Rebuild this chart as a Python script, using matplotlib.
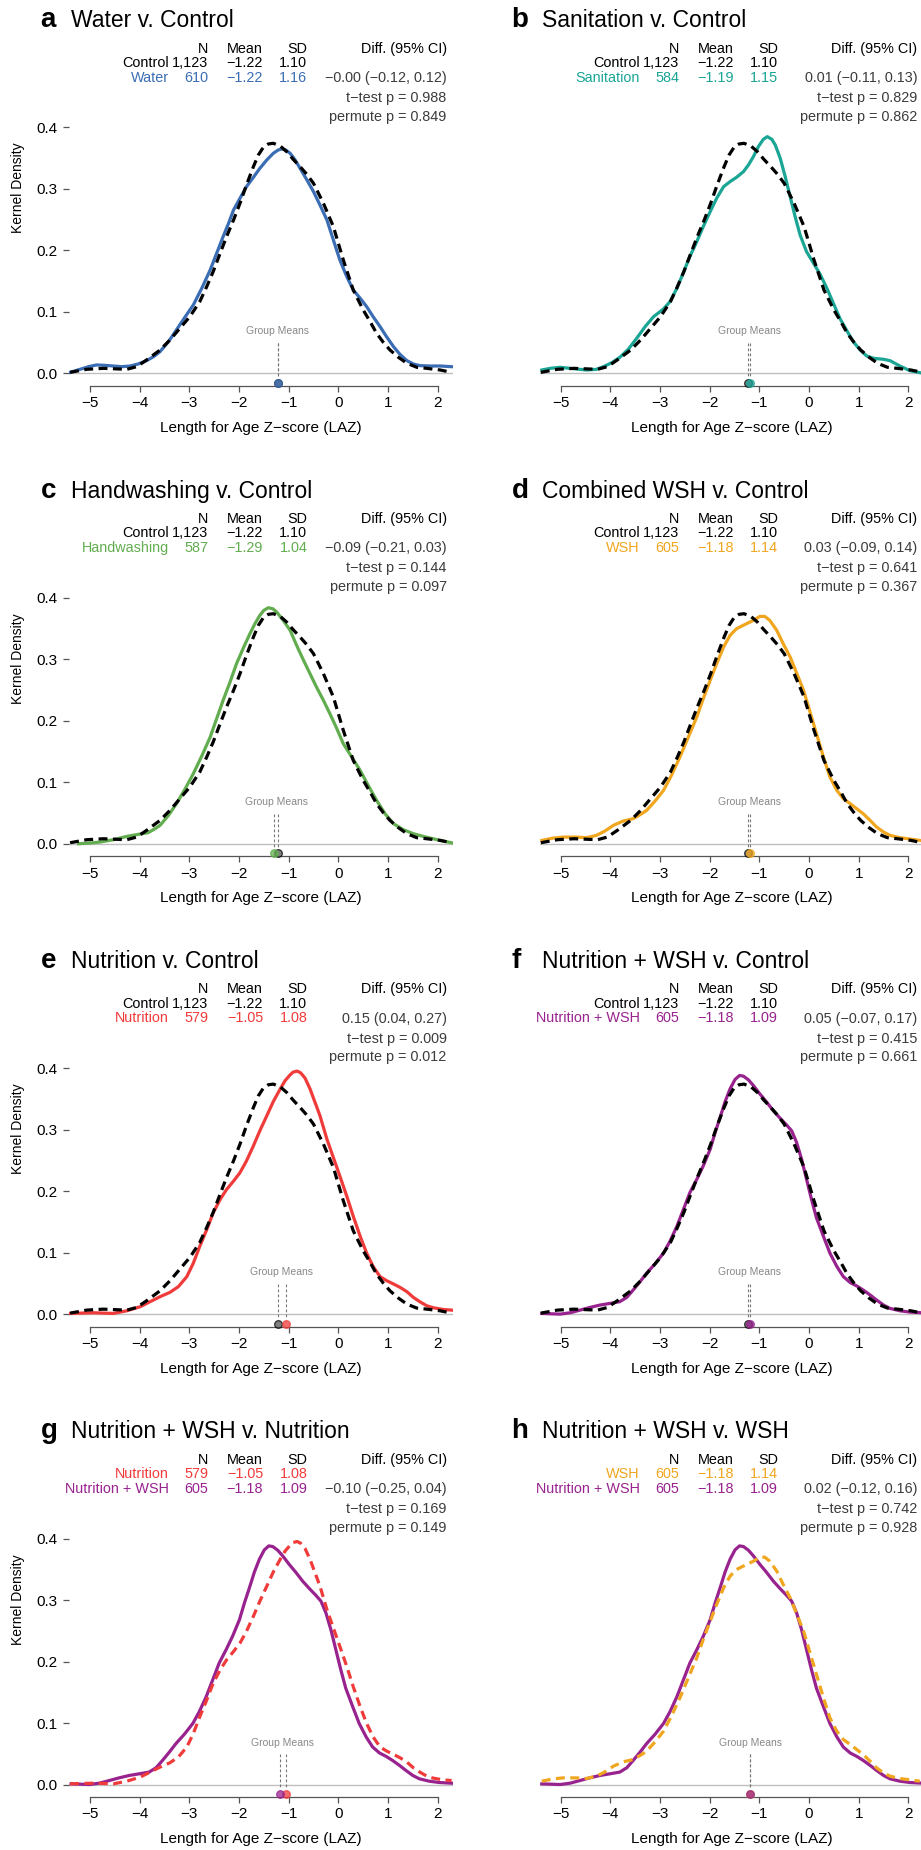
"""Kernel density of LAZ by arm, eight pairwise panels (a-h)."""
import matplotlib
matplotlib.use('Agg')
import matplotlib.pyplot as plt

plt.rcParams.update({'font.family': ['Liberation Sans', 'DejaVu Sans'],
                     'axes.unicode_minus': True})

# ---- group summary table ----
groups = ['Control', 'Water', 'Sanitation', 'Handwashing', 'WSH',
          'Nutrition', 'Nutrition + WSH']
group_n = [1123, 610, 584, 587, 605, 579, 605]
group_mean = [-1.22, -1.22, -1.19, -1.29, -1.18, -1.05, -1.18]
group_sd = [1.10, 1.16, 1.15, 1.04, 1.14, 1.08, 1.09]
group_color = ['#000000', '#3a6db3', '#1aa595', '#62ad4f', '#f0a61e',
               '#f03b3b', '#98228e']

# ---- density curves (x = LAZ, y = density) ----
ctrl_x = [-5.40, -5.07, -4.73, -4.26, -4.06, -3.86, -3.59, -3.39, -3.19, -2.99,
          -2.79, -2.65, -2.52, -2.38, -2.25, -2.11, -1.98, -1.85, -1.71, -1.61,
          -1.51, -1.41, -1.31, -1.17, -1.04, -0.91, -0.77, -0.64, -0.50, -0.40,
          -0.30, -0.20, -0.10, 0.00, 0.10, 0.20, 0.30, 0.40, 0.50, 0.64,
          0.77, 0.91, 1.04, 1.21, 1.38, 1.58, 1.78, 2.05, 2.28]
ctrl_y = [0.0016, 0.0065, 0.0081, 0.0065, 0.0108, 0.0217, 0.0379, 0.0542, 0.0732,
          0.0921, 0.1165, 0.1409, 0.1653, 0.1951, 0.2222, 0.2493, 0.2764, 0.3062,
          0.3360, 0.3550, 0.3675, 0.3729, 0.3740, 0.3696, 0.3604, 0.3480, 0.3360,
          0.3241, 0.3089, 0.2927, 0.2764, 0.2575, 0.2385, 0.2114, 0.1843, 0.1599,
          0.1355, 0.1192, 0.1030, 0.0840, 0.0650, 0.0499, 0.0379, 0.0260, 0.0163,
          0.0098, 0.0081, 0.0054, 0.0016]
water_x = [-5.40, -5.20, -5.03, -4.87, -4.70, -4.53, -4.36, -4.19, -4.03, -3.86,
           -3.72, -3.59, -3.42, -3.26, -3.09, -2.92, -2.75, -2.58, -2.45, -2.32,
           -2.21, -2.11, -1.98, -1.85, -1.71, -1.58, -1.44, -1.31, -1.21, -1.14,
           -1.06, -0.97, -0.87, -0.77, -0.64, -0.50, -0.37, -0.23, -0.10, 0.03,
           0.17, 0.30, 0.44, 0.57, 0.70, 0.84, 0.97, 1.11, 1.24, 1.38,
           1.51, 1.64, 1.85, 2.05, 2.28]
water_y = [0.0016, 0.0065, 0.0108, 0.0136, 0.0130, 0.0119, 0.0108, 0.0119, 0.0152,
           0.0206, 0.0271, 0.0352, 0.0515, 0.0705, 0.0911, 0.1111, 0.1382, 0.1680,
           0.1951, 0.2222, 0.2439, 0.2656, 0.2846, 0.3035, 0.3187, 0.3333, 0.3469,
           0.3577, 0.3631, 0.3648, 0.3631, 0.3577, 0.3469, 0.3333, 0.3154, 0.2954,
           0.2737, 0.2493, 0.2168, 0.1843, 0.1572, 0.1355, 0.1220, 0.1084, 0.0921,
           0.0759, 0.0596, 0.0434, 0.0309, 0.0206, 0.0152, 0.0125, 0.0119, 0.0119,
           0.0108]
san_x = [-5.38, -5.21, -5.01, -4.81, -4.48, -4.28, -4.14, -3.97, -3.81, -3.64,
         -3.47, -3.30, -3.13, -2.93, -2.80, -2.66, -2.53, -2.40, -2.26, -2.13,
         -1.99, -1.86, -1.72, -1.59, -1.46, -1.32, -1.22, -1.12, -1.02, -0.92,
         -0.84, -0.75, -0.68, -0.58, -0.48, -0.38, -0.28, -0.18, -0.05, 0.09,
         0.22, 0.36, 0.49, 0.62, 0.76, 0.89, 1.03, 1.16, 1.30, 1.50,
         1.63, 1.83, 2.03, 2.23]
san_y = [0.0054, 0.0081, 0.0098, 0.0081, 0.0054, 0.0065, 0.0108, 0.0173, 0.0260,
         0.0390, 0.0569, 0.0759, 0.0921, 0.1046, 0.1165, 0.1382, 0.1637, 0.1897,
         0.2141, 0.2385, 0.2629, 0.2846, 0.3035, 0.3117, 0.3187, 0.3279, 0.3388,
         0.3523, 0.3686, 0.3805, 0.3848, 0.3805, 0.3713, 0.3496, 0.3198, 0.2873,
         0.2547, 0.2249, 0.1978, 0.1789, 0.1615, 0.1382, 0.1138, 0.0894, 0.0694,
         0.0515, 0.0379, 0.0282, 0.0244, 0.0228, 0.0206, 0.0119, 0.0043, 0.0011]
hw_x = [-5.23, -5.00, -4.80, -4.53, -4.26, -4.03, -3.83, -3.69, -3.59, -3.42,
        -3.26, -3.09, -2.92, -2.75, -2.58, -2.45, -2.32, -2.18, -2.05, -1.91,
        -1.78, -1.68, -1.58, -1.50, -1.41, -1.32, -1.24, -1.11, -0.97, -0.84,
        -0.70, -0.57, -0.44, -0.30, -0.17, -0.03, 0.10, 0.27, 0.44, 0.60,
        0.77, 0.94, 1.11, 1.31, 1.51, 1.71, 1.91, 2.11, 2.28]
hw_y = [0.0, 0.0011, 0.0027, 0.0065, 0.0119, 0.0152, 0.0179, 0.0244, 0.0298,
        0.0461, 0.0650, 0.0883, 0.1138, 0.1425, 0.1734, 0.2033, 0.2331, 0.2629,
        0.2927, 0.3187, 0.3415, 0.3577, 0.3713, 0.3794, 0.3837, 0.3821, 0.3767,
        0.3631, 0.3469, 0.3225, 0.2981, 0.2764, 0.2547, 0.2331, 0.2114, 0.1870,
        0.1626, 0.1409, 0.1192, 0.0949, 0.0705, 0.0488, 0.0325, 0.0228, 0.0163,
        0.0119, 0.0081, 0.0043, 0.0016]
wsh_x = [-5.38, -5.15, -4.95, -4.68, -4.48, -4.28, -4.11, -3.94, -3.74, -3.54,
         -3.37, -3.27, -3.10, -2.93, -2.77, -2.60, -2.43, -2.26, -2.13, -1.99,
         -1.86, -1.72, -1.59, -1.46, -1.26, -1.12, -0.99, -0.89, -0.79, -0.65,
         -0.52, -0.38, -0.25, -0.11, -0.01, 0.09, 0.19, 0.29, 0.42, 0.56,
         0.69, 0.83, 0.96, 1.09, 1.23, 1.36, 1.50, 1.63, 1.83, 2.03, 2.23]
wsh_y = [0.0054, 0.0092, 0.0108, 0.0108, 0.0098, 0.0136, 0.0206, 0.0298, 0.0369,
         0.0407, 0.0488, 0.0542, 0.0694, 0.0867, 0.1111, 0.1409, 0.1734, 0.2060,
         0.2358, 0.2656, 0.2927, 0.3198, 0.3388, 0.3496, 0.3577, 0.3631, 0.3696,
         0.3696, 0.3631, 0.3469, 0.3252, 0.3035, 0.2775, 0.2493, 0.2222, 0.1951,
         0.1680, 0.1409, 0.1084, 0.0867, 0.0732, 0.0650, 0.0569, 0.0488, 0.0379,
         0.0271, 0.0190, 0.0136, 0.0098, 0.0076, 0.0054]
nut_x = [-5.40, -4.93, -4.53, -4.26, -3.99, -3.79, -3.59, -3.39, -3.22, -3.05,
         -2.92, -2.79, -2.65, -2.52, -2.38, -2.25, -2.11, -1.98, -1.85, -1.71,
         -1.58, -1.44, -1.31, -1.17, -1.07, -0.97, -0.91, -0.83, -0.76, -0.67,
         -0.57, -0.47, -0.37, -0.23, -0.10, 0.03, 0.17, 0.30, 0.44, 0.57,
         0.70, 0.84, 0.97, 1.11, 1.24, 1.38, 1.51, 1.64, 1.78, 1.91, 2.11, 2.28]
nut_y = [0.0011, 0.0022, 0.0011, 0.0054, 0.0120, 0.0202, 0.0283, 0.0354, 0.0447,
         0.0610, 0.0828, 0.1101, 0.1373, 0.1646, 0.1864, 0.2027, 0.2163, 0.2300,
         0.2490, 0.2736, 0.2981, 0.3226, 0.3455, 0.3662, 0.3798, 0.3891, 0.3935,
         0.3951, 0.3924, 0.3837, 0.3662, 0.3444, 0.3226, 0.2845, 0.2545, 0.2245,
         0.1918, 0.1591, 0.1264, 0.0992, 0.0774, 0.0610, 0.0545, 0.0490, 0.0436,
         0.0365, 0.0272, 0.0202, 0.0136, 0.0104, 0.0076, 0.0065]
nwsh_x = [-5.38, -5.01, -4.81, -4.61, -4.41, -4.21, -4.01, -3.81, -3.67, -3.54,
          -3.40, -3.27, -3.10, -2.93, -2.80, -2.66, -2.53, -2.40, -2.26, -2.13,
          -1.99, -1.89, -1.79, -1.69, -1.59, -1.49, -1.40, -1.32, -1.22, -1.12,
          -0.99, -0.85, -0.72, -0.58, -0.45, -0.35, -0.25, -0.15, -0.05, 0.05,
          0.15, 0.29, 0.42, 0.56, 0.69, 0.83, 0.96, 1.09, 1.23, 1.36,
          1.50, 1.63, 1.83, 2.03, 2.28]
nwsh_y = [0.0011, 0.0, 0.0022, 0.0065, 0.0109, 0.0147, 0.0174, 0.0202, 0.0272,
          0.0392, 0.0529, 0.0665, 0.0817, 0.0992, 0.1183, 0.1428, 0.1700, 0.1973,
          0.2191, 0.2409, 0.2681, 0.2954, 0.3199, 0.3455, 0.3662, 0.3815, 0.3880,
          0.3869, 0.3809, 0.3717, 0.3580, 0.3444, 0.3308, 0.3183, 0.3074, 0.2981,
          0.2790, 0.2518, 0.2191, 0.1864, 0.1564, 0.1264, 0.0992, 0.0774, 0.0610,
          0.0512, 0.0458, 0.0392, 0.0311, 0.0229, 0.0147, 0.0093, 0.0054, 0.0033,
          0.0022]
curves = {'Control': (ctrl_x, ctrl_y), 'Water': (water_x, water_y),
          'Sanitation': (san_x, san_y), 'Handwashing': (hw_x, hw_y),
          'WSH': (wsh_x, wsh_y), 'Nutrition': (nut_x, nut_y),
          'Nutrition + WSH': (nwsh_x, nwsh_y)}

# ---- panels: letter, title, reference arm, treatment arm, diff + CI, p-values ----
letters = ['a', 'b', 'c', 'd', 'e', 'f', 'g', 'h']
titles = ['Water v. Control', 'Sanitation v. Control', 'Handwashing v. Control',
          'Combined WSH v. Control', 'Nutrition v. Control',
          'Nutrition + WSH v. Control', 'Nutrition + WSH v. Nutrition',
          'Nutrition + WSH v. WSH']
ref_arm = ['Control'] * 6 + ['Nutrition', 'WSH']
trt_arm = ['Water', 'Sanitation', 'Handwashing', 'WSH', 'Nutrition',
           'Nutrition + WSH', 'Nutrition + WSH', 'Nutrition + WSH']
diff = [-0.00, 0.01, -0.09, 0.03, 0.15, 0.05, -0.10, 0.02]
ci_lo = [-0.12, -0.11, -0.21, -0.09, 0.04, -0.07, -0.25, -0.12]
ci_hi = [0.12, 0.13, 0.03, 0.14, 0.27, 0.17, 0.04, 0.16]
p_ttest = [0.988, 0.829, 0.144, 0.641, 0.009, 0.415, 0.169, 0.742]
p_perm = [0.849, 0.862, 0.097, 0.367, 0.012, 0.661, 0.149, 0.928]

W, H = 921, 1850
ROW, COL = 470.4, 470.7
XLIM = (-5.42, 2.30)
YLIM = (-0.025, 0.42)
STAT = '#3c3c3c'
AXC = '#555555'


def m(v, fmt='.2f'):
    return format(v, fmt).replace('-', '\u2212')


def ftext(px, py, s, **kw):
    # place text by pixel position (from top-left) of the figure
    return fig.text(px / W, 1 - py / H, s, **kw)


fig = plt.figure(figsize=(W / 100, H / 100), dpi=100)

for i in range(8):
    r, c = divmod(i, 2)
    dx, dy = c * COL, r * ROW
    left, right = 69.1 + dx, 452.6 + dx
    top, bottom = 115.0 + dy, 388.7 + dy
    ax = fig.add_axes([left / W, 1 - bottom / H, (right - left) / W,
                       (bottom - top) / H])
    ax.set_xlim(*XLIM)
    ax.set_ylim(*YLIM)
    ax.patch.set_alpha(0)
    for s in ['top', 'right', 'left']:
        ax.spines[s].set_visible(False)
    ax.spines['bottom'].set_position(('data', -0.0207))
    ax.spines['bottom'].set_bounds(-5, 2)
    ax.spines['bottom'].set_color(AXC)
    ax.spines['bottom'].set_linewidth(0.9)
    ax.set_xticks(range(-5, 3))
    ax.tick_params(axis='x', direction='out', length=4.3, width=0.9,
                   color=AXC, labelsize=11, pad=3)
    if c == 0:
        ax.set_yticks([0, 0.1, 0.2, 0.3, 0.4])
        ax.set_yticklabels(['0.0', '0.1', '0.2', '0.3', '0.4'])
        ax.tick_params(axis='y', direction='out', length=4.3, width=0.9,
                       color=AXC, labelsize=11, pad=4)
        ftext(18, 188 + dy, 'Kernel Density', rotation=90, ha='center',
              va='center', fontsize=10)
    else:
        ax.tick_params(axis='y', left=False, labelleft=False)
    ax.set_xlabel('Length for Age Z\u2212score (LAZ)', fontsize=11)
    ax.xaxis.set_label_coords(0.5, -(421 - 388.7) / (bottom - top))
    ax.xaxis.label.set_va('top')

    ax.axhline(0, color='#c0c0c0', lw=1.0, zorder=1)

    ref, trt = ref_arm[i], trt_arm[i]
    gr, gt = groups.index(ref), groups.index(trt)
    cr, ct = group_color[gr], group_color[gt]

    xt, yt = curves[trt]
    ax.plot(xt, yt, color=ct, lw=2.3, solid_joinstyle='round', zorder=3)
    xr, yr = curves[ref]
    ax.plot(xr, yr, color=cr, lw=2.3, ls=(0, (2.8, 1.7)),
            dash_joinstyle='round', zorder=4)

    # group means marker strip
    mr, mt = group_mean[gr], group_mean[gt]
    for mv in (mr, mt):
        ax.plot([mv, mv], [0.049, -0.008], color='#777777', lw=0.8,
                ls=(0, (2.5, 2)), zorder=2)
    ax.text((mr + mt) / 2, 0.068, 'Group Means', color='#888888', fontsize=7.5,
            ha='center', va='center')
    for mv, col in ((mr, cr), (mt, ct)):
        fc = '#555555' if col == '#000000' else col
        ax.plot(mv, -0.0155, 'o', ms=5.5, mfc=fc, mec=col, alpha=0.75,
                mew=0.9, clip_on=False, zorder=5)

    # heading and summary table
    ftext(40.7 + dx, 27.3 + dy, letters[i], fontsize=20, fontweight='bold',
          ha='left', va='baseline')
    ftext(71 + dx, 27.3 + dy, titles[i], fontsize=16.5, ha='left',
          va='baseline')
    tk = dict(fontsize=10.4, va='baseline', ha='right')
    cols_px = [208.3, 263, 307.3]
    for txt, xp in zip(['N', 'Mean', 'SD'], cols_px):
        ftext(xp + dx, 52.7 + dy, txt, **tk)
    ftext(446.7 + dx, 52.7 + dy, 'Diff. (95% CI)', **tk)
    for g, yp in ((gr, 66.7), (gt, 81.7)):
        col = group_color[g]
        ftext(169 + dx, yp + dy, groups[g], color=col, **tk)
        vals = [format(group_n[g], ','), m(group_mean[g]), m(group_sd[g])]
        for v, xp in zip(vals, cols_px):
            ftext(xp + dx, yp + dy, v, color=col, **tk)
    ftext(446.7 + dx, 81.7 + dy,
          f'{m(diff[i])} ({m(ci_lo[i])}, {m(ci_hi[i])})', color=STAT, **tk)
    ftext(446.7 + dx, 101.7 + dy, f't\u2212test p = {p_ttest[i]:.3f}',
          color=STAT, **tk)
    ftext(446.7 + dx, 120.5 + dy, f'permute p = {p_perm[i]:.3f}',
          color=STAT, **tk)

fig.savefig('out.png', dpi=100)
